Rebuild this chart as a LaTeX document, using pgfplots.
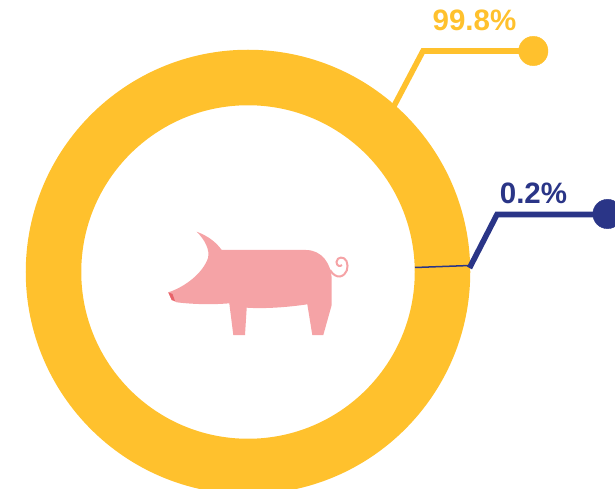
\documentclass[border=0pt]{standalone}
\usepackage{pgfplots}
\pgfplotsset{compat=1.18}
\usepackage{fontspec}
\setmainfont{Liberation Sans}
\definecolor{ringy}{HTML}{FFC12D}
\definecolor{navy}{HTML}{2A3587}
\definecolor{pig}{HTML}{F5A3A6}
\definecolor{snout}{HTML}{E8636A}
\pgfplotsset{pxaxis/.style={at={(0,0)},anchor=south west,scale only axis,width=615pt,height=489pt,
  xmin=0,xmax=615,ymin=0,ymax=489,y dir=reverse,axis lines=none,clip=true}}
\begin{document}
\begin{tikzpicture}
\useasboundingbox (0,0) rectangle (615pt,489pt);
\begin{axis}[pxaxis]
% ring
\addplot[only marks,mark=o,mark size=194.5pt,mark options={draw=ringy,line width=55.5pt,fill=none}] coordinates {(248,272)};
\end{axis}
\begin{axis}[pxaxis]
% pig
\fill[pig] (axis cs:196.7,231.7) .. controls (axis cs:208,236) and (axis cs:216,242) .. (axis cs:221.7,250)
  -- (axis cs:306,250) .. controls (axis cs:322,250) and (axis cs:331,264) .. (axis cs:331.7,278)
  -- (axis cs:331.7,305) -- (axis cs:323.3,335) -- (axis cs:312.3,335) -- (axis cs:307.3,304.3)
  .. controls (axis cs:290,307) and (axis cs:265,309) .. (axis cs:246.7,307.7)
  -- (axis cs:245,335) -- (axis cs:233.3,335) -- (axis cs:229.3,303.3)
  .. controls (axis cs:210,305) and (axis cs:190,304) .. (axis cs:176.7,302.3)
  -- (axis cs:171.7,300) -- (axis cs:168.3,292.3)
  .. controls (axis cs:185,287) and (axis cs:203,273) .. (axis cs:208,258)
  .. controls (axis cs:210,250) and (axis cs:205,240) .. (axis cs:196.7,231.7) -- cycle;
\fill[snout] (axis cs:168.3,292.3) -- (axis cs:172.5,294) -- (axis cs:175,301) -- (axis cs:171.7,300) -- cycle;
\draw[pig,line width=2pt] (axis cs:330,270) .. controls (axis cs:333,275) and (axis cs:337,277) .. (axis cs:340,276.5)
  .. controls (axis cs:347,275) and (axis cs:349,267) .. (axis cs:346.5,261)
  .. controls (axis cs:344,256) and (axis cs:337,256.5) .. (axis cs:336.5,262)
  .. controls (axis cs:336.5,266) and (axis cs:340,267) .. (axis cs:342,265);
% slice boundary and leaders
\addplot[navy,line width=1.5pt] coordinates {(415,267.5) (470,265.5)};
\addplot[ringy,line width=5.6pt,miter limit=10] coordinates {(394,106) (423,51) (533,51)};
\addplot[only marks,mark=*,mark size=14.7pt,mark options={draw=ringy,fill=ringy}] coordinates {(533.3,51)};
\addplot[navy,line width=5.6pt,line join=miter] coordinates {(469.5,268) (497,214.5) (607,214.5)};
\addplot[only marks,mark=*,mark size=14.7pt,mark options={draw=navy,fill=navy}] coordinates {(607.5,214)};
\node[text=ringy,font=\bfseries\fontsize{29.5}{31}\selectfont,inner sep=0pt] at (axis cs:474.5,20.5) {99.8\%};
\node[text=navy,font=\bfseries\fontsize{29.5}{31}\selectfont,inner sep=0pt] at (axis cs:533.5,193.5) {0.2\%};
\end{axis}
\end{tikzpicture}
\end{document}
